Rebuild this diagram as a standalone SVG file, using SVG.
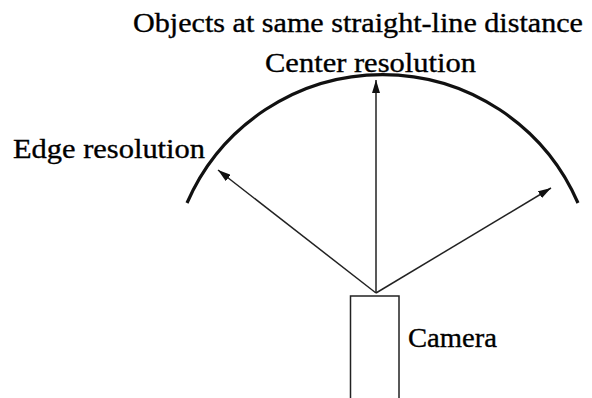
<svg xmlns="http://www.w3.org/2000/svg" width="592" height="398" viewBox="0 0 592 398">
<style>
text{font-family:"Liberation Serif","Times New Roman",serif;font-size:28px;fill:#000;stroke:#000;stroke-width:0.35}
.ray{stroke:#222;stroke-width:1.5;fill:none}
</style>
<defs>
<marker id="ah" viewBox="0 0 13 8" refX="13" refY="4" markerWidth="13" markerHeight="8" markerUnits="userSpaceOnUse" orient="auto">
<path d="M0,0 L13,4 L0,8 Z" fill="#111"/>
</marker>
</defs>
<rect width="592" height="398" fill="#fff"/>
<g id="title"><text x="133" y="32" textLength="450" lengthAdjust="spacingAndGlyphs">Objects at same straight-line distance</text></g>
<g id="arc"><path d="M187,203 A213,213 0 0,1 578,203" fill="none" stroke="#111" stroke-width="3.2"/></g>
<g id="center-label"><text x="265" y="72" textLength="211" lengthAdjust="spacingAndGlyphs">Center resolution</text></g>
<g id="edge-label"><text x="13" y="158" textLength="192" lengthAdjust="spacingAndGlyphs">Edge resolution</text></g>
<g id="camera">
<rect x="350.5" y="296" width="48.5" height="110" fill="none" stroke="#222" stroke-width="1.5"/>
<text x="408" y="347" textLength="89" lengthAdjust="spacingAndGlyphs">Camera</text>
</g>
<g id="connectors">
<line class="ray" x1="376" y1="293" x2="376" y2="80" marker-end="url(#ah)"/>
<line class="ray" x1="376" y1="293" x2="218" y2="170" marker-end="url(#ah)"/>
<line class="ray" x1="376" y1="293" x2="551" y2="188" marker-end="url(#ah)"/>
</g>
</svg>
